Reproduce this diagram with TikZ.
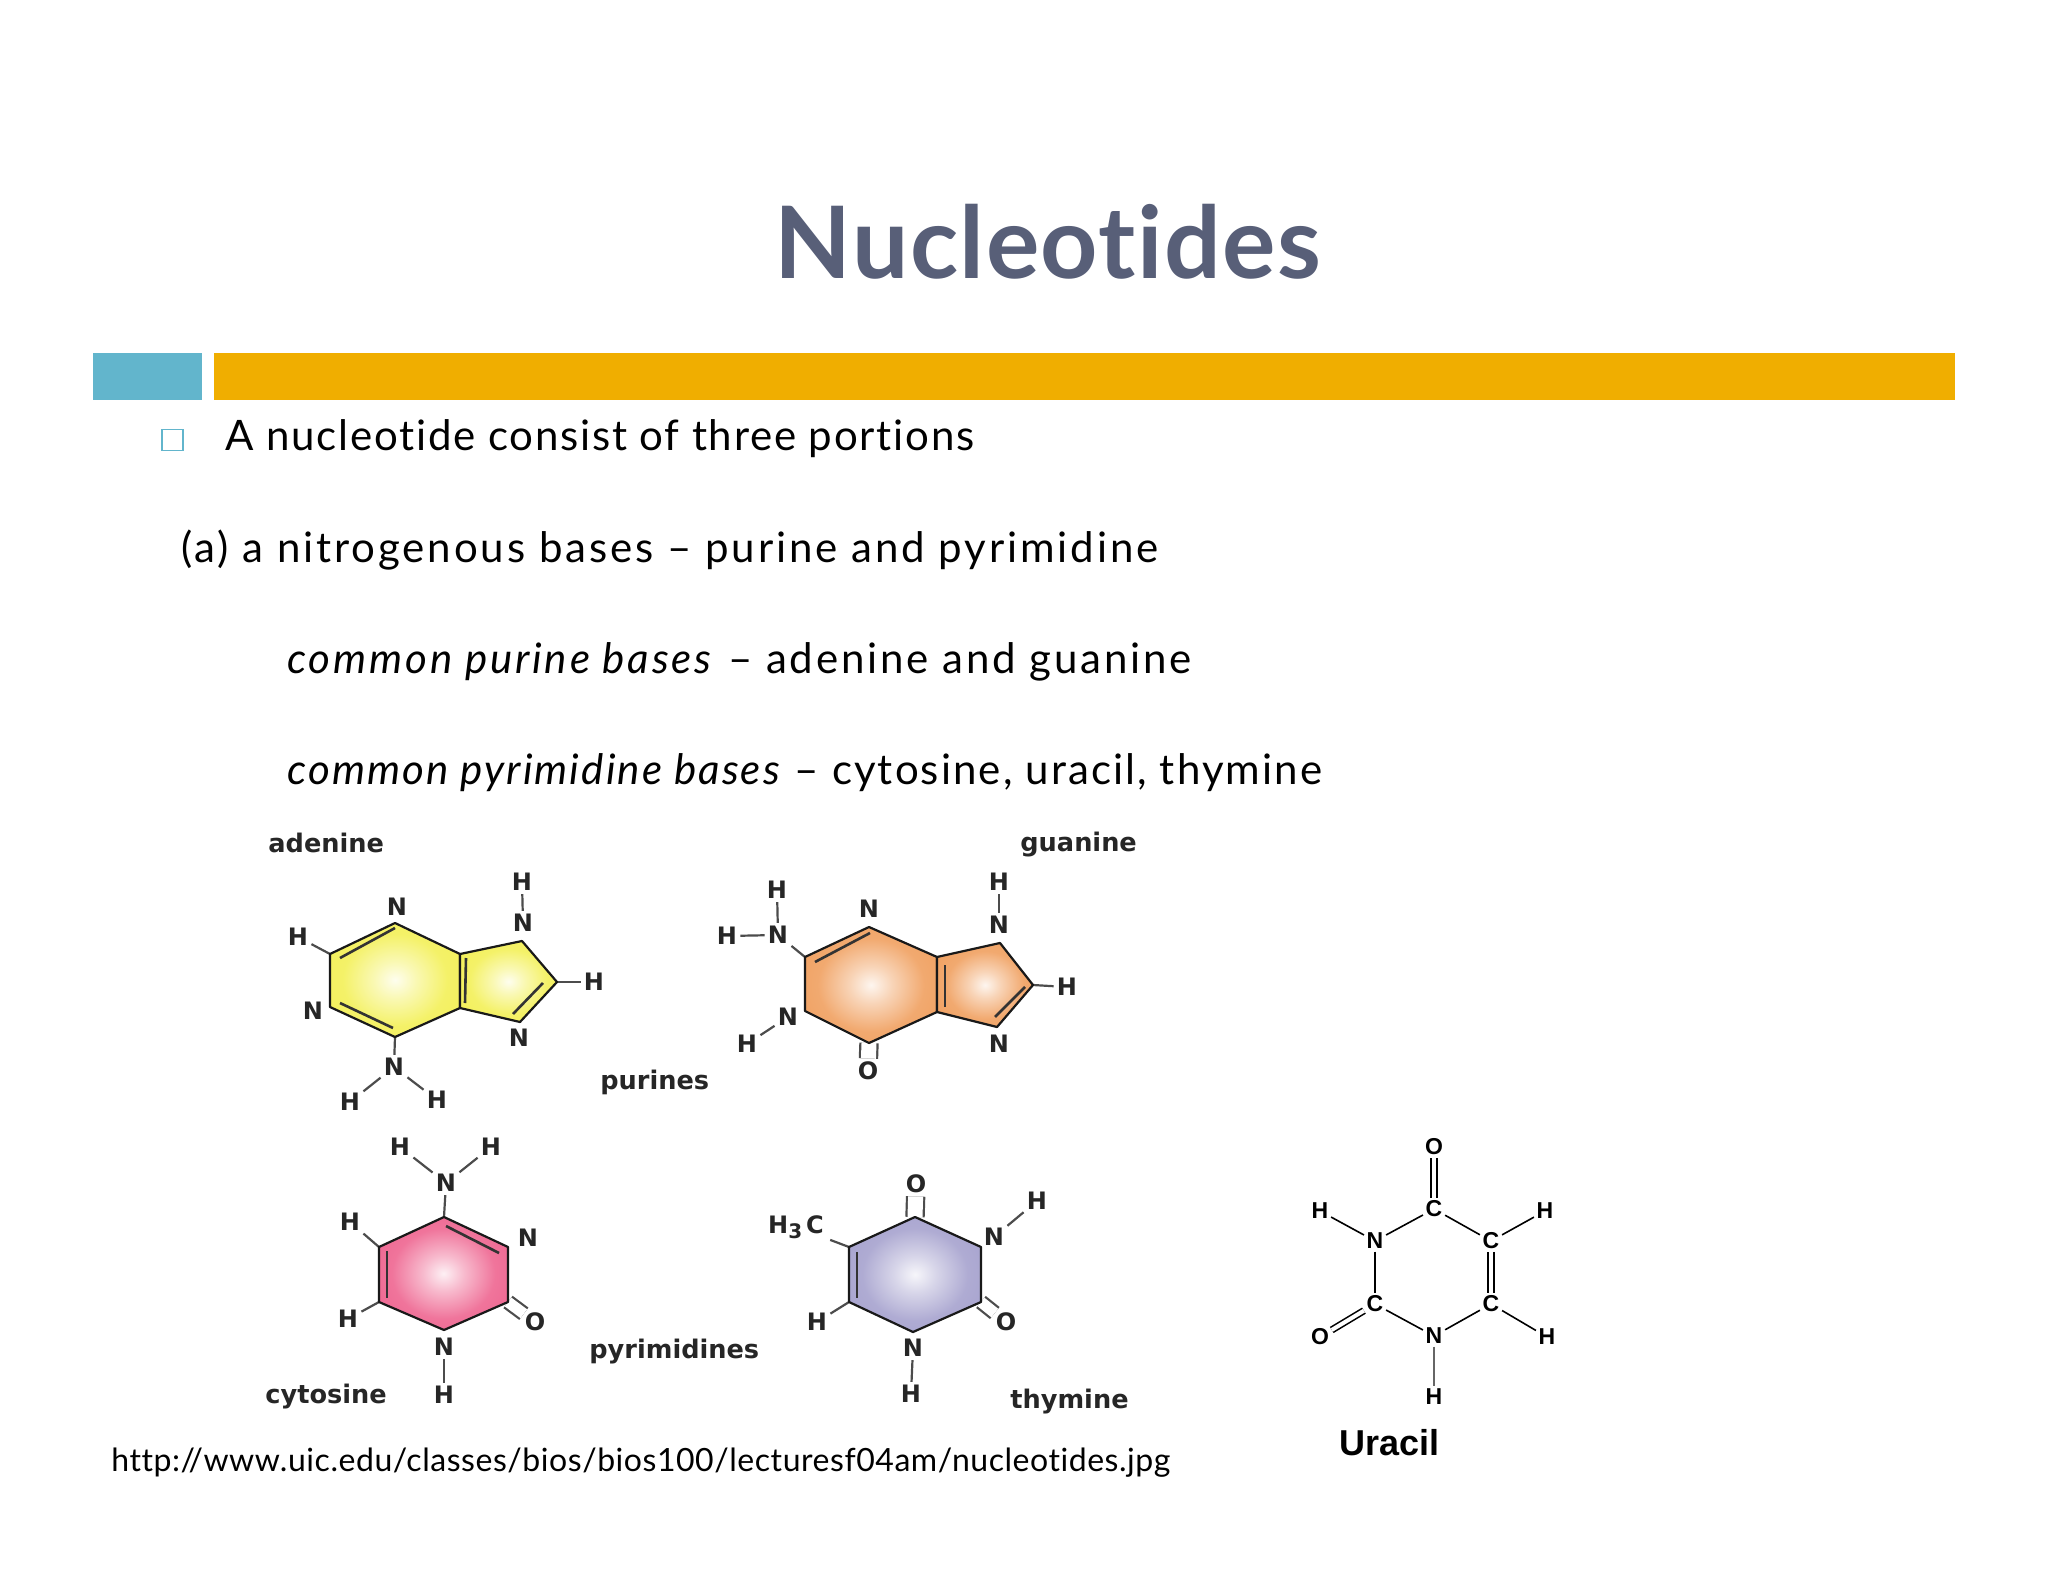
\documentclass[tikz,border=0pt]{standalone}
\usepackage{fontspec}
\setmainfont{Lato}[Ligatures=NoCommon]
\newfontfamily\molfont{DejaVu Sans}
\newfontfamily\arialfont{Liberation Sans}
\newcommand{\spaced}[1]{\addfontfeatures{LetterSpace=#1}}
\definecolor{titlegray}{HTML}{585F78}
\definecolor{barblue}{HTML}{62B5CC}
\definecolor{bargold}{HTML}{F0AE00}
\definecolor{yellowring}{HTML}{F3F058}
\definecolor{orangering}{HTML}{F0A060}
\definecolor{pinkring}{HTML}{EE6590}
\definecolor{lilacring}{HTML}{A6A2CE}
\pgfdeclareradialshading{yellowglow}{\pgfpoint{0bp}{0bp}}{color(0bp)=(yellowring!10!white); color(8bp)=(yellowring!45!white); color(20bp)=(yellowring!90!white); color(32bp)=(yellowring); color(50bp)=(yellowring)}
\pgfdeclareradialshading{orangeglow}{\pgfpoint{0bp}{0bp}}{color(0bp)=(orangering!10!white); color(8bp)=(orangering!45!white); color(20bp)=(orangering!90!white); color(32bp)=(orangering); color(50bp)=(orangering)}
\pgfdeclareradialshading{pinkglow}{\pgfpoint{0bp}{0bp}}{color(0bp)=(pinkring!10!white); color(8bp)=(pinkring!45!white); color(20bp)=(pinkring!90!white); color(32bp)=(pinkring); color(50bp)=(pinkring)}
\pgfdeclareradialshading{lilacglow}{\pgfpoint{0bp}{0bp}}{color(0bp)=(lilacring!10!white); color(8bp)=(lilacring!45!white); color(20bp)=(lilacring!90!white); color(32bp)=(lilacring); color(50bp)=(lilacring)}
\begin{document}
\begin{tikzpicture}[x=.5pt,y=-.5pt]
	\tikzset{slide/.style = {anchor=base west,inner sep=0pt,font=\fontsize{21}{24}\selectfont}}
	\tikzset{atom/.style = {inner sep=1.5pt,font=\molfont\bfseries\fontsize{12}{12}\selectfont,text=black!85}}
	\tikzset{basename/.style = {anchor=base west,inner sep=0pt,font=\molfont\bfseries\fontsize{12.8}{14}\selectfont,text=black!85}}
	\tikzset{bond/.style = {draw=black!70,line width=1.1pt}}
	\tikzset{dbond/.style = {bond,double=white,double distance=7.5pt}}
	\tikzset{sbond/.style = {dbond,double distance=5.5pt,shorten <=-1.5pt}}
	\tikzset{ring/.style = {draw=black!90,line width=1.1pt,line join=round}}
	\tikzset{innerbond/.style = {draw=black!80,line width=1.3pt}}
	\tikzset{uatom/.style = {inner sep=1.2pt,font=\arialfont\bfseries\fontsize{11.5}{12}\selectfont}}
	\tikzset{ubond/.style = {draw=black,line width=.8pt}}
	\tikzset{udbond/.style = {ubond,double=white,double distance=2pt}}
	\useasboundingbox (0,0) rectangle (2048,1582);

	\node[anchor=base,inner sep=0pt,font=\bfseries\fontsize{50}{60}\selectfont,text=titlegray] (title) at (1048,279) {\spaced{1.4}Nucleotides};
	\node[fill=barblue,inner sep=0pt,minimum width=54.5pt,minimum height=23.5pt] (bluebar) at (147.5,376.5) {};
	\node[fill=bargold,inner sep=0pt,minimum width=870.5pt,minimum height=23.5pt] (goldbar) at (1084.5,376.5) {};
	\node[draw=barblue,line width=.7pt,inner sep=0pt,minimum width=10.5pt,minimum height=10.5pt] (bullet) at (172.5,440) {};
	\node[slide] (line1) at (225,451) {\spaced{4.2}A nucleotide consist of three portions};
	\node[slide] (line2) at (181,562) {\spaced{6.9}(a) a nitrogenous bases – purine and pyrimidine};
	\node[slide] (line3) at (287,673) {\spaced{6.8}\textit{common purine bases} – adenine and guanine};
	\node[slide] (line4) at (287,784) {\spaced{5}\textit{common pyrimidine bases} – cytosine, uracil, thymine};
	\node[slide,font=\fontsize{16}{20}\selectfont] (url) at (111,1471) {\spaced{1.7}http://www.uic.edu/classes/bios/bios100/lecturesf04am/nucleotides.jpg};

	\node[basename] (adenine) at (268,852) {adenine};
	\node[basename] (guanine) at (1020,851) {guanine};
	\node[basename] (purines) at (600,1089) {purines};
	\node[basename] (pyrimidines) at (589,1358) {pyrimidines};
	\node[basename] (cytosine) at (265,1403) {cytosine};
	\node[basename] (thymine) at (1010,1408) {thymine};

	\coordinate (a1) at (395,923);
	\coordinate (a2) at (460,954);
	\coordinate (a3) at (460,1008);
	\coordinate (a4) at (395,1037);
	\coordinate (a5) at (330,1007);
	\coordinate (a6) at (330,954);
	\coordinate (a7) at (522,941);
	\coordinate (a8) at (557,982);
	\coordinate (a9) at (520,1022);
	\coordinate (ai1) at (340,958);
	\coordinate (ai2) at (395,928);
	\coordinate (ai3) at (340,1003);
	\coordinate (ai4) at (393,1028);
	\coordinate (ai5) at (466,958);
	\coordinate (ai6) at (465,1003);
	\coordinate (ai7) at (543,983);
	\coordinate (ai8) at (513,1014);
	\node[atom] (aN1) at (397,907) {N};
	\node[atom] (aH1) at (298,937) {H};
	\node[atom] (aN2) at (313,1011) {N};
	\node[atom] (aN3) at (523,923) {N};
	\node[atom] (aH2) at (522,882) {H};
	\node[atom] (aH3) at (594,982) {H};
	\node[atom] (aN4) at (519,1038) {N};
	\node[atom] (aN5) at (394,1067) {N};
	\node[atom] (aH4) at (350,1102) {H};
	\node[atom] (aH5) at (437,1100) {H};
	\draw[bond] (aH1) -- (a6);
	\draw[bond] (aH2) -- (aN3);
	\draw[bond] (aH3) -- (a8);
	\draw[bond] (aN5) -- (a4);
	\draw[bond] (aN5) -- (aH4);
	\draw[bond] (aN5) -- (aH5);
	\shade[ring,shading=yellowglow] (a1) -- (a2) -- (a3) -- (a4) -- (a5) -- (a6) -- cycle;
	\shade[ring,shading=yellowglow] (a2) -- (a7) -- (a8) -- (a9) -- (a3) -- cycle;
	\draw[innerbond] (ai1) -- (ai2);
	\draw[innerbond] (ai3) -- (ai4);
	\draw[innerbond] (ai5) -- (ai6);
	\draw[innerbond] (ai7) -- (ai8);

	\coordinate (g1) at (869,927);
	\coordinate (g2) at (937,957);
	\coordinate (g3) at (937,1012);
	\coordinate (g4) at (869,1043);
	\coordinate (g5) at (805,1011);
	\coordinate (g6) at (805,957);
	\coordinate (g7) at (1000,943);
	\coordinate (g8) at (1033,985);
	\coordinate (g9) at (997,1027);
	\coordinate (gi1) at (815,962);
	\coordinate (gi2) at (870,933);
	\coordinate (gi3) at (945,965);
	\coordinate (gi4) at (945,1007);
	\coordinate (gi5) at (1025,987);
	\coordinate (gi6) at (995,1017);
	\node[atom] (gH1) at (777,890) {H};
	\node[atom] (gN1) at (778,935) {N};
	\node[atom] (gH2) at (727,936) {H};
	\node[atom] (gN2) at (869,909) {N};
	\node[atom] (gN3) at (999,925) {N};
	\node[atom] (gH3) at (999,882) {H};
	\node[atom] (gH4) at (1067,987) {H};
	\node[atom] (gN4) at (999,1044) {N};
	\node[atom] (gN5) at (788,1017) {N};
	\node[atom] (gH5) at (747,1044) {H};
	\node[atom] (gO) at (868,1071) {O};
	\draw[bond] (gH1) -- (gN1);
	\draw[bond] (gH2) -- (gN1);
	\draw[bond] (gN1) -- (g6);
	\draw[bond] (gH3) -- (gN3);
	\draw[bond] (gH4) -- (g8);
	\draw[bond] (gN5) -- (gH5);
	\draw[dbond] (gO) -- (g4);
	\shade[ring,shading=orangeglow] (g1) -- (g2) -- (g3) -- (g4) -- (g5) -- (g6) -- cycle;
	\shade[ring,shading=orangeglow] (g2) -- (g7) -- (g8) -- (g9) -- (g3) -- cycle;
	\draw[innerbond] (gi1) -- (gi2);
	\draw[innerbond] (gi3) -- (gi4);
	\draw[innerbond] (gi5) -- (gi6);

	\coordinate (c1) at (444,1217);
	\coordinate (c2) at (508,1247);
	\coordinate (c3) at (508,1302);
	\coordinate (c4) at (444,1330);
	\coordinate (c5) at (379,1302);
	\coordinate (c6) at (379,1247);
	\coordinate (ci1) at (446,1226);
	\coordinate (ci2) at (499,1253);
	\coordinate (ci3) at (387,1251);
	\coordinate (ci4) at (387,1298);
	\node[atom] (cH1) at (400,1147) {H};
	\node[atom] (cH2) at (491,1147) {H};
	\node[atom] (cN1) at (446,1183) {N};
	\node[atom] (cH3) at (350,1222) {H};
	\node[atom] (cN2) at (528,1238) {N};
	\node[atom] (cO) at (535,1322) {O};
	\node[atom] (cH4) at (348,1319) {H};
	\node[atom] (cN3) at (444,1347) {N};
	\node[atom] (cH5) at (444,1395) {H};
	\draw[bond] (cH1) -- (cN1);
	\draw[bond] (cH2) -- (cN1);
	\draw[bond] (cN1) -- (c1);
	\draw[bond] (cH3) -- (c6);
	\draw[bond] (cH4) -- (c5);
	\draw[bond] (cN3) -- (cH5);
	\draw[sbond] (cO) -- (c3);
	\shade[ring,shading=pinkglow] (c1) -- (c2) -- (c3) -- (c4) -- (c5) -- (c6) -- cycle;
	\draw[innerbond] (ci1) -- (ci2);
	\draw[innerbond] (ci3) -- (ci4);

	\coordinate (t1) at (915,1217);
	\coordinate (t2) at (981,1247);
	\coordinate (t3) at (981,1302);
	\coordinate (t4) at (913,1332);
	\coordinate (t5) at (849,1302);
	\coordinate (t6) at (849,1247);
	\coordinate (ti1) at (857,1252);
	\coordinate (ti2) at (857,1298);
	\node[atom] (tO1) at (916,1184) {O};
	\node[atom] (tH1) at (1037,1201) {H};
	\node[atom] (tN1) at (994,1237) {N};
	\node[atom,inner sep=3pt] (tC) at (796,1227) {H\raisebox{-.35ex}{\fontsize{10}{10}\selectfont 3}\,C};
	\node[atom] (tO2) at (1006,1322) {O};
	\node[atom] (tH2) at (817,1322) {H};
	\node[atom] (tN2) at (913,1348) {N};
	\node[atom] (tH3) at (911,1394) {H};
	\draw[bond] (tH1) -- (tN1);
	\draw[bond] (tC) -- (t6);
	\draw[bond] (tH2) -- (t5);
	\draw[bond] (tN2) -- (tH3);
	\draw[dbond] (tO1) -- (t1);
	\draw[sbond] (tO2) -- (t3);
	\shade[ring,shading=lilacglow] (t1) -- (t2) -- (t3) -- (t4) -- (t5) -- (t6) -- cycle;
	\draw[innerbond] (ti1) -- (ti2);

	\node[uatom] (uO1) at (1434,1147) {O};
	\node[uatom] (uC1) at (1434,1209) {C};
	\node[uatom] (uN1) at (1375,1241) {N};
	\node[uatom] (uC2) at (1491,1241) {C};
	\node[uatom] (uC3) at (1375,1304) {C};
	\node[uatom] (uC4) at (1491,1304) {C};
	\node[uatom] (uN2) at (1434,1336) {N};
	\node[uatom] (uO2) at (1320,1337) {O};
	\node[uatom] (uH1) at (1320,1211) {H};
	\node[uatom] (uH2) at (1545,1211) {H};
	\node[uatom] (uH3) at (1547,1337) {H};
	\node[uatom] (uH4) at (1434,1397) {H};
	\draw[udbond] (uO1) -- (uC1);
	\draw[ubond] (uC1) -- (uN1);
	\draw[ubond] (uC1) -- (uC2);
	\draw[ubond] (uN1) -- (uC3);
	\draw[udbond] (uC2) -- (uC4);
	\draw[ubond] (uC3) -- (uN2);
	\draw[ubond] (uC4) -- (uN2);
	\draw[udbond] (uC3) -- (uO2);
	\draw[ubond] (uH1) -- (uN1);
	\draw[ubond] (uH2) -- (uC2);
	\draw[ubond] (uH3) -- (uC4);
	\draw[ubond,draw=black!60] (uN2) -- (uH4);
	\node[anchor=base west,inner sep=0pt,font=\arialfont\bfseries\fontsize{18}{20}\selectfont] (uracil) at (1339,1455) {Uracil};
\end{tikzpicture}
\end{document}
